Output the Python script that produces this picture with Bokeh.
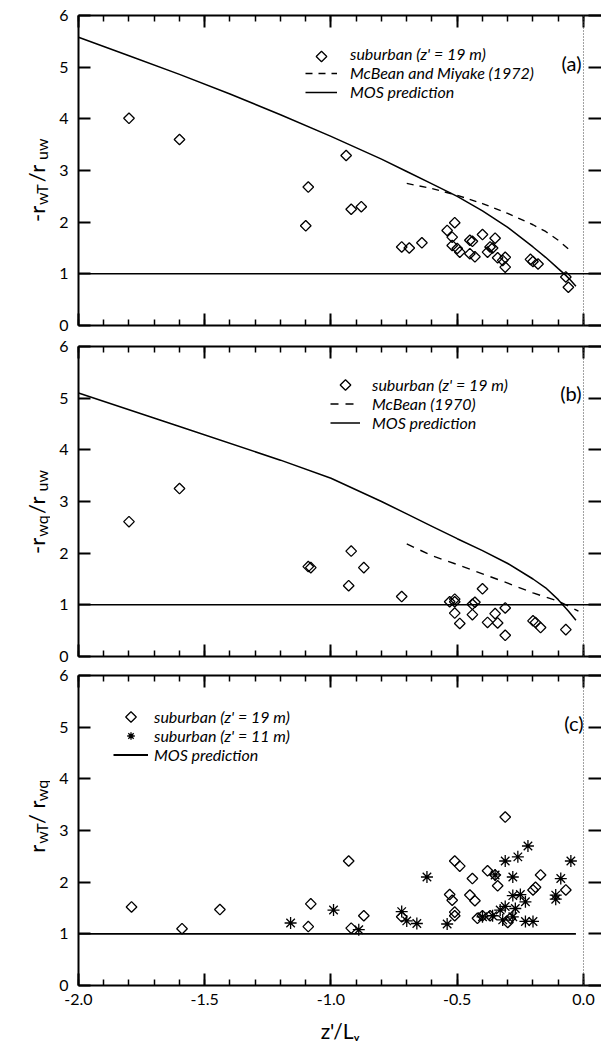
import numpy as np
from bokeh.plotting import figure
from bokeh.models import (Range1d, LinearAxis, FixedTicker, Span, Label, Legend,
                          LegendItem, NumeralTickFormatter)
from bokeh.layouts import column, row
from bokeh.embed import file_html
from bokeh.resources import INLINE

# ---------------- data ----------------
# panel (a): -r_wT / r_uw
x_a = [-1.80, -1.60, -0.94, -1.09, -1.10, -0.92, -0.88, -0.72, -0.69, -0.64, -0.54, -0.51,
       -0.52, -0.52, -0.50, -0.49, -0.44, -0.45, -0.45, -0.43, -0.40, -0.38, -0.37, -0.36,
       -0.35, -0.34, -0.32, -0.31, -0.31, -0.21, -0.20, -0.18, -0.07, -0.06]
y_a = [4.01, 3.60, 3.29, 2.68, 1.93, 2.25, 2.30, 1.52, 1.50, 1.60, 1.84, 1.99,
       1.71, 1.55, 1.49, 1.42, 1.63, 1.65, 1.39, 1.33, 1.76, 1.42, 1.52, 1.50,
       1.69, 1.31, 1.26, 1.32, 1.13, 1.28, 1.24, 1.19, 0.94, 0.74]
mos_a_x = [-2.0, -1.8, -1.6, -1.4, -1.2, -1.0, -0.8, -0.7, -0.6, -0.5, -0.4, -0.3, -0.2,
           -0.15, -0.1, -0.07, -0.05, -0.03]
mos_a_y = [5.58, 5.22, 4.86, 4.48, 4.08, 3.66, 3.22, 2.98, 2.74, 2.50, 2.22, 1.90, 1.52,
           1.32, 1.10, 0.97, 0.87, 0.76]
mm_x = [-0.70, -0.60, -0.50, -0.40, -0.30, -0.20, -0.15, -0.10, -0.05]
mm_y = [2.75, 2.65, 2.52, 2.36, 2.17, 1.95, 1.82, 1.65, 1.44]

# panel (b): -r_wq / r_uw
x_b = [-1.80, -1.60, -1.09, -1.08, -0.92, -0.93, -0.87, -0.72, -0.53, -0.51, -0.51, -0.51,
       -0.49, -0.44, -0.44, -0.43, -0.40, -0.38, -0.35, -0.34, -0.31, -0.31, -0.20, -0.19,
       -0.17, -0.07]
y_b = [2.61, 3.25, 1.74, 1.72, 2.04, 1.37, 1.72, 1.16, 1.06, 1.11, 1.06, 0.84,
       0.64, 0.81, 1.01, 1.05, 1.31, 0.66, 0.83, 0.65, 0.94, 0.41, 0.69, 0.66,
       0.56, 0.52]
mos_b_x = [-2.0, -1.6, -1.2, -1.0, -0.8, -0.7, -0.6, -0.5, -0.4, -0.3, -0.2, -0.15, -0.1,
           -0.06, -0.03]
mos_b_y = [5.10, 4.45, 3.80, 3.45, 3.00, 2.76, 2.52, 2.28, 2.05, 1.80, 1.50, 1.33, 1.10,
           0.88, 0.70]
mb_x = [-0.70, -0.60, -0.50, -0.40, -0.30, -0.20, -0.10, -0.02]
mb_y = [2.18, 1.95, 1.78, 1.60, 1.42, 1.23, 1.07, 0.88]

# panel (c): r_wT / r_wq
x_c19 = [-1.79, -1.59, -1.44, -1.09, -1.08, -0.93, -0.92, -0.87, -0.72, -0.53, -0.52, -0.51,
         -0.51, -0.51, -0.49, -0.44, -0.45, -0.43, -0.42, -0.40, -0.38, -0.34, -0.35, -0.31,
         -0.30, -0.29, -0.37, -0.20, -0.19, -0.17, -0.07]
y_c19 = [1.52, 1.10, 1.47, 1.14, 1.58, 2.41, 1.11, 1.35, 1.33, 1.76, 1.65, 1.42,
         1.35, 2.41, 2.31, 2.07, 1.75, 1.64, 1.30, 1.35, 2.22, 1.93, 2.14, 3.26,
         1.22, 1.30, 1.35, 1.85, 1.90, 2.14, 1.85]
x_c11 = [-1.16, -0.99, -0.89, -0.72, -0.70, -0.66, -0.62, -0.54, -0.40, -0.36, -0.35, -0.31,
         -0.28, -0.26, -0.22, -0.28, -0.25, -0.23, -0.33, -0.31, -0.27, -0.28, -0.32, -0.23,
         -0.20, -0.09, -0.11, -0.11, -0.05]
y_c11 = [1.21, 1.46, 1.08, 1.43, 1.25, 1.20, 2.10, 1.19, 1.33, 1.35, 2.14, 2.41,
         2.10, 2.49, 2.70, 1.74, 1.76, 1.62, 1.46, 1.53, 1.49, 1.33, 1.27, 1.24,
         1.24, 2.07, 1.75, 1.67, 2.41]
mos_c_x = [-2.0, -0.03]
mos_c_y = [1.0, 1.0]

x_major = [-2.0, -1.5, -1.0, -0.5, 0.0]
x_minor = [round(-2.0 + 0.1 * i, 1) for i in range(21)]
y_major = [0, 1, 2, 3, 4, 5, 6]

# ---------------- styling helpers ----------------
FONT = "Lato"
X_RANGE = (-2.0, 0.0713)
TITLE_W = 50            # width of the column that carries the rotated y titles
FRAME_W = 601 - 78      # plot frame width in px
FRAME_H = 310
W = {'-': 0.33, 'r': 0.37, 'w': 0.77, 'T': 0.58, 'q': 0.56, 'u': 0.56, '/': 0.38,
     ' ': 0.2, 'z': 0.46, "'": 0.23, 'L': 0.47, 'V': 0.66}


def tw(s, size):
    return sum(W.get(c, 0.55) for c in s) * size


def bare_fig(w, h):
    f = figure(width=w, height=h, x_range=Range1d(0, w), y_range=Range1d(0, h),
               output_backend="svg", toolbar_location=None, title=None,
               x_axis_location=None, y_axis_location=None, min_border=0)
    f.outline_line_color = None
    f.grid.visible = False
    return f


def make_panel(height, top, bottom, show_x_labels, x_title=None):
    p = figure(width=601 - TITLE_W, height=height, x_range=Range1d(*X_RANGE),
               y_range=Range1d(0, 6), output_backend="svg", toolbar_location=None,
               title=None, x_axis_location=None, y_axis_location=None,
               min_border_left=78 - TITLE_W, min_border_right=0,
               min_border_top=top, min_border_bottom=bottom)
    p.outline_line_color = None
    p.grid.visible = False
    p.background_fill_color = "white"
    p.border_fill_color = "white"

    def xaxis(labels):
        ax = LinearAxis(ticker=FixedTicker(ticks=x_major, minor_ticks=x_minor),
                        major_tick_in=12, major_tick_out=0, minor_tick_in=6, minor_tick_out=0,
                        axis_line_width=2, major_tick_line_width=2, minor_tick_line_width=1.5,
                        formatter=NumeralTickFormatter(format="0.0"))
        if labels:
            ax.major_label_text_font = FONT
            ax.major_label_text_font_size = "16px"
            ax.major_label_text_color = "black"
            ax.major_label_standoff = 8
            if x_title:
                ax.axis_label = x_title
                ax.axis_label_text_font = FONT
                ax.axis_label_text_font_size = "21px"
                ax.axis_label_text_font_style = "normal"
                ax.axis_label_text_color = "black"
                ax.axis_label_standoff = 10
        else:
            ax.major_label_text_font_size = "1px"
            ax.major_label_text_color = None
            ax.major_label_standoff = 0
        return ax

    p.add_layout(xaxis(show_x_labels), "below")
    p.add_layout(xaxis(False), "above")

    yl = LinearAxis(ticker=FixedTicker(ticks=y_major, minor_ticks=[]),
                    major_tick_in=12, major_tick_out=0, minor_tick_in=0, minor_tick_out=0,
                    axis_line_width=2, major_tick_line_width=2,
                    major_label_text_font=FONT, major_label_text_font_size="16px",
                    major_label_text_color="black", major_label_standoff=10)
    p.add_layout(yl, "left")
    yr = LinearAxis(ticker=FixedTicker(ticks=y_major, minor_ticks=[]),
                    major_tick_in=13, major_tick_out=0, minor_tick_in=0, minor_tick_out=0,
                    axis_line_color=None, major_tick_line_width=2,
                    major_label_text_font_size="1px", major_label_text_color=None,
                    major_label_standoff=0)
    p.add_layout(yr, "right")

    p.add_layout(Span(location=0, dimension="height", line_color="#444444",
                      line_dash="1 2", line_width=1))
    return p


def ytitle(h, pieces, center, gap=3):
    f = bare_fig(TITLE_W, h)
    total = sum(tw(t, sz) for t, sz, sub in pieces) + gap * (len(pieces) - 1)
    y = center - total / 2
    for t, sz, sub in pieces:
        f.add_layout(Label(x=36 + (5 if sub else 0), y=y, text=t, angle=np.pi / 2,
                           text_font=FONT, text_font_size=f"{sz}px", text_align="left",
                           text_baseline="alphabetic", text_color="black"))
        y += tw(t, sz) + gap
    return f


def tag(p, txt, x, y):
    p.add_layout(Label(x=x, y=y, x_units="screen", y_units="screen", text=txt,
                       text_font=FONT, text_font_size="20px", text_align="right",
                       text_baseline="middle", text_color="black"))


def legend(p, items, loc, gw, gh, standoff, diamond_row=None):
    lg = Legend(items=[LegendItem(label=l, renderers=[r]) for l, r in items],
                location=loc, glyph_width=gw, glyph_height=gh, label_height=gh,
                spacing=0, padding=0, margin=0, label_standoff=standoff,
                border_line_color=None, background_fill_alpha=0,
                label_text_font=FONT, label_text_font_style="italic",
                label_text_font_size="16px", label_text_color="black")
    p.add_layout(lg)
    if diamond_row is not None:
        # legend key for the rotated-square (diamond) marker, placed in the legend's glyph slot
        n = len(items)
        cx = loc[0] + gw / 2
        cy = loc[1] + (n - diamond_row - 0.5) * gh
        kx = X_RANGE[0] + cx * (X_RANGE[1] - X_RANGE[0]) / FRAME_W
        ky = cy * 6.0 / FRAME_H
        diamonds(p, [kx], [ky])


def diamonds(p, x, y):
    return p.scatter(x, y, marker="square", angle=np.pi / 4, size=7.5, fill_alpha=0,
                     line_color="black", line_width=1.3)


# ---------------- panel (a) ----------------
pa = make_panel(335, 15, 10, False)
pa.add_layout(Span(location=1, dimension="width", line_color="black", line_width=1.5))
ra_d = diamonds(pa, x_a, y_a)
ra_key = pa.text(x=[], y=[], text=[])
ra_mm = pa.line(mm_x, mm_y, line_color="black", line_width=1.4, line_dash="7 6")
ra_mos = pa.line(mos_a_x, mos_a_y, line_color="black", line_width=1.5)
legend(pa, [("suburban (z' = 19 m)", ra_key), ("McBean and Miyake (1972)", ra_mm),
            ("MOS prediction", ra_mos)], (227, 224), 32, 18, 13, diamond_row=0)
tag(pa, "(a)", 503, 263)
ta = ytitle(335, [("-r", 22, False), ("wT", 16, True), (" /r", 22, False), ("uw", 16, True)], 156)

# ---------------- panel (b) ----------------
pb = make_panel(330, 11, 9, False)
pb.add_layout(Span(location=1, dimension="width", line_color="black", line_width=1.5))
rb_d = diamonds(pb, x_b, y_b)
rb_key = pb.text(x=[], y=[], text=[])
rb_mb = pb.line(mb_x, mb_y, line_color="black", line_width=1.4, line_dash="8 7")
rb_mos = pb.line(mos_b_x, mos_b_y, line_color="black", line_width=1.5)
legend(pb, [("suburban (z' = 19 m)", rb_key), ("McBean (1970)", rb_mb),
            ("MOS prediction", rb_mos)], (252, 224), 30, 19, 12, diamond_row=0)
tag(pb, "(b)", 503, 264)
tb = ytitle(330, [("-r", 22, False), ("wq", 16, True), (" /r", 22, False), ("uw", 16, True)], 153)

# ---------------- panel (c) ----------------
pc = make_panel(384, 10, 64, True, x_title="z'/L\u1d65")
rc_mos = pc.line(mos_c_x, mos_c_y, line_color="black", line_width=1.8)
rc_19 = diamonds(pc, x_c19, y_c19)
rc_key = pc.text(x=[], y=[], text=[])
rc_11 = pc.scatter(x_c11, y_c11, marker="asterisk", size=12, line_color="black", line_width=1.3)
legend(pc, [("suburban (z' = 19 m)", rc_key), ("suburban (z' = 11 m)", rc_11),
            ("MOS prediction", rc_mos)], (35, 221), 35, 19, 6, diamond_row=0)
tag(pc, "(c)", 505, 263)
tc = ytitle(384, [("r", 22, False), ("wT", 16, True), (" / r", 22, False), ("wq", 16, True)], 207)

layout = column(row(ta, pa, spacing=0), row(tb, pb, spacing=0), row(tc, pc, spacing=0),
                spacing=0)
open("out.html", "w").write(file_html(layout, INLINE))
